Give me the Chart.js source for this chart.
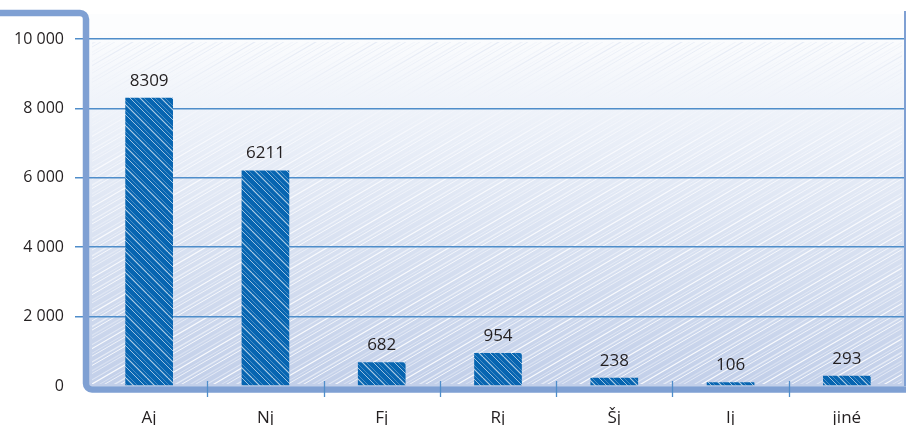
<!DOCTYPE html>
<html>
<head>
<meta charset="utf-8">
<script src="https://cdn.jsdelivr.net/npm/chart.js@4/dist/chart.umd.min.js"></script>
<style>
  html, body { margin: 0; padding: 0; background: #fff; }
  canvas { display: block; }
</style>
</head>
<body>
<canvas id="chart" width="908" height="425"></canvas>
<script>
const categories = ['Aj', 'Nj', 'Fj', 'Rj', 'Šj', 'Ij', 'jiné'];
const values = [8309, 6211, 682, 954, 238, 106, 293];
const yMin = 0;
const yMax = 10000;
const yStep = 2000;

const BAR_BLUE = '#0765b1';
const FRAME = '#7fa0d3';
const GRID = '#4f8dca';
const TEXT = '#231f20';
const FONT = "'Open Sans', sans-serif";

function fmt(v) {
  return String(v).replace(/\B(?=(\d{3})+(?!\d))/g, ' ');
}

// hatched fill for the bars (white "\" strokes on blue)
function barPattern() {
  const s = 21;
  const c = document.createElement('canvas');
  c.width = s; c.height = s;
  const g = c.getContext('2d');
  g.fillStyle = BAR_BLUE;
  g.fillRect(0, 0, s, s);
  const offs = [[0, 0.7, 1.1], [4, 0.35, 0.8], [11, 0.6, 1], [15, 0.3, 0.8]];
  offs.forEach(([o, a, w]) => {
    g.strokeStyle = 'rgba(255,255,255,' + a + ')';
    g.lineWidth = w;
    for (let k = -1; k <= 1; k++) {
      g.beginPath();
      g.moveTo(o + k * s, 0);
      g.lineTo(o + k * s + s, s);
      g.stroke();
    }
  });
  return g.createPattern(c, 'repeat');
}

const backgroundPlugin = {
  id: 'bg',
  beforeDraw(chart) {
    const { ctx, chartArea: a } = chart;
    const top = 14;
    const left = 88;
    ctx.save();
    const grad = ctx.createLinearGradient(0, 30, 0, a.bottom);
    grad.addColorStop(0, '#fcfdfe');
    grad.addColorStop(0.3, '#eaeff8');
    grad.addColorStop(0.65, '#d6dff0');
    grad.addColorStop(1, '#c2cfe9');
    ctx.fillStyle = grad;
    ctx.fillRect(left, top, a.right - left, a.bottom - top);

    ctx.beginPath();
    ctx.rect(left + 4, 42, a.right - left - 7, a.bottom - 44);
    ctx.clip();
    const sg = ctx.createLinearGradient(0, top, 0, a.bottom);
    sg.addColorStop(0, 'rgba(222,229,242,1)');
    sg.addColorStop(0.35, 'rgba(250,251,254,1)');
    sg.addColorStop(1, 'rgba(255,255,255,1)');
    ctx.strokeStyle = sg;
    const slope = 0.58;
    const h = a.bottom - top;
    const dx = h / slope;
    const widths = [1, 1.3, 0.8, 1.1, 1.2, 0.9, 1, 1.4];
    const alphas = [0.85, 0.45, 0.7, 0.3, 0.9, 0.55, 0.65, 0.4];
    const gaps = [6, 9, 5, 11, 7, 8, 5, 10];
    let i = 0;
    for (let x = left - dx; x < a.right + 10; x += gaps[i % 8]) {
      ctx.lineWidth = widths[i % 8];
      ctx.globalAlpha = alphas[(i * 3) % 8];
      ctx.beginPath();
      ctx.moveTo(x, a.bottom);
      ctx.lineTo(x + dx, top);
      ctx.stroke();
      i++;
    }
    ctx.restore();
  },
  afterDraw(chart) {
    const { ctx, chartArea: a } = chart;
    ctx.save();
    // right border
    ctx.strokeStyle = FRAME;
    ctx.lineWidth = 2;
    ctx.beginPath();
    ctx.moveTo(905, 11);
    ctx.lineTo(905, a.bottom);
    ctx.stroke();
    // top-left / left axis / bottom axis frame
    ctx.lineWidth = 6.5;
    ctx.lineJoin = 'round';
    ctx.beginPath();
    ctx.moveTo(0, 13);
    ctx.arcTo(86, 13, 86, 389.5, 6);
    ctx.arcTo(86, 389.5, 906, 389.5, 6);
    ctx.lineTo(906, 389.5);
    ctx.stroke();
    // category separators on the x axis
    const w = (a.right - a.left) / categories.length;
    ctx.strokeStyle = GRID;
    ctx.lineWidth = 1.3;
    for (let i = 1; i < categories.length; i++) {
      const x = Math.round(a.left + i * w) + 0.5;
      ctx.beginPath();
      ctx.moveTo(x, a.bottom - 5);
      ctx.lineTo(x, a.bottom + 11);
      ctx.stroke();
    }
    ctx.restore();
  }
};

const labelPlugin = {
  id: 'valueLabels',
  afterDatasetsDraw(chart) {
    const { ctx } = chart;
    const meta = chart.getDatasetMeta(0);
    ctx.save();
    ctx.fillStyle = TEXT;
    ctx.font = '17px ' + FONT;
    ctx.textAlign = 'center';
    ctx.textBaseline = 'alphabetic';
    meta.data.forEach((el, i) => {
      ctx.fillText(String(values[i]), el.x, el.y - 12);
    });
    ctx.restore();
  }
};

new Chart(document.getElementById('chart'), {
  type: 'bar',
  data: {
    labels: categories,
    datasets: [{
      data: values,
      backgroundColor: barPattern(),
      borderWidth: 0,
      barPercentage: 0.41,
      categoryPercentage: 1
    }]
  },
  options: {
    responsive: false,
    animation: false,
    layout: { padding: { top: 39, right: 3, left: 0, bottom: 0 } },
    plugins: {
      legend: { display: false },
      tooltip: { enabled: false }
    },
    scales: {
      x: {
        grid: { display: false },
        border: { display: false },
        ticks: { color: TEXT, font: { family: FONT, size: 17 }, padding: 14, maxRotation: 0 },
        afterFit(s) { s.height = 39; }
      },
      y: {
        min: yMin,
        max: yMax,
        border: { display: false },
        grid: {
          color: c => c.tick && c.tick.value === 0 ? 'rgba(0,0,0,0)' : GRID,
          lineWidth: 1.5,
          tickLength: 16
        },
        ticks: {
          stepSize: yStep,
          color: TEXT,
          font: { family: FONT, size: 16 },
          padding: 11,
          callback: v => fmt(v)
        },
        afterFit(s) { s.width = 91; }
      }
    }
  },
  plugins: [backgroundPlugin, labelPlugin]
});
</script>
</body>
</html>
